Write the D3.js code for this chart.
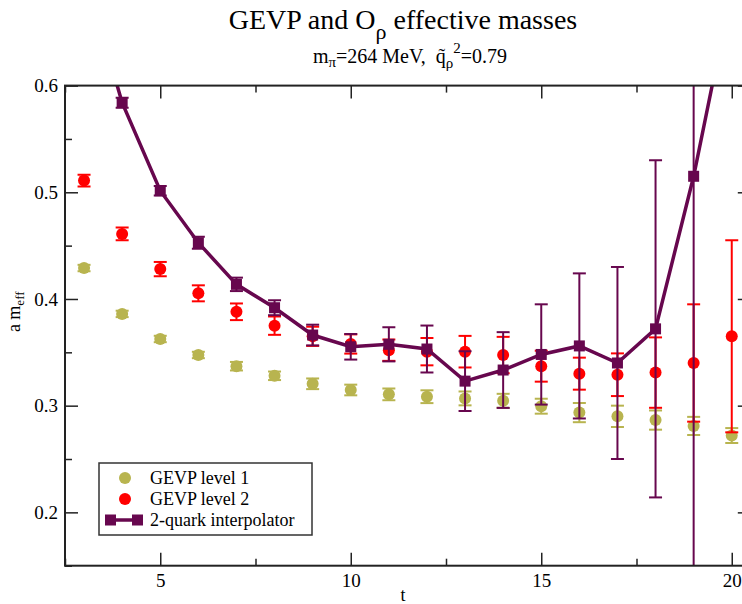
<!DOCTYPE html>
<html>
<head>
<meta charset="utf-8">
<script src="https://cdn.jsdelivr.net/npm/d3@7"></script>
<style>
	body { margin: 0; background: #fff; }
	svg text { font-family: "Liberation Serif", "DejaVu Serif", "Noto Serif", serif !important; fill: #000; }
</style>
</head>
<body>
<script>
// effective masses, one entry per timeslice
let tVals = [3, 4, 5, 6, 7, 8, 9, 10, 11, 12, 13, 14, 15, 16, 17, 18, 19, 20];

let level1 = [0.429, 0.386, 0.3625, 0.3475, 0.337, 0.328, 0.3205, 0.3147, 0.3106, 0.3084, 0.3068, 0.3046, 0.2995, 0.2935, 0.290, 0.2865, 0.281, 0.272];
let level1Err = [0.003, 0.003, 0.003, 0.003, 0.004, 0.004, 0.005, 0.005, 0.0055, 0.006, 0.0065, 0.0065, 0.007, 0.009, 0.01, 0.009, 0.0085, 0.007];

let level2 = [0.511, 0.461, 0.428, 0.4053, 0.388, 0.375, 0.365, 0.3578, 0.352, 0.3506, 0.3506, 0.3475, 0.337, 0.330, 0.329, 0.331, 0.340, 0.365];
let level2Err = [0.0055, 0.006, 0.0067, 0.0075, 0.0078, 0.0086, 0.009, 0.009, 0.01, 0.0128, 0.0148, 0.017, 0.0145, 0.015, 0.02, 0.033, 0.055, 0.09];

let quark = [0.707, 0.584, 0.5015, 0.4527, 0.4137, 0.3918, 0.3662, 0.3552, 0.3575, 0.3531, 0.323, 0.3334, 0.348, 0.356, 0.340, 0.372, 0.515, 0.69];
let quarkErr = [0.005, 0.0047, 0.0044, 0.0056, 0.0063, 0.007, 0.0097, 0.012, 0.016, 0.022, 0.028, 0.0355, 0.047, 0.068, 0.09, 0.158, 0.5, 0.05];

let xMajor = [5, 10, 15, 20];
let xMinor = [2.5, 7.5, 12.5, 17.5];
let yMajor = [0.2, 0.3, 0.4, 0.5, 0.6];
let yMinor = [0.15, 0.25, 0.35, 0.45, 0.55];

let legendLabels = ["GEVP level 1", "GEVP level 2", "2-quark interpolator"];

let colL1 = "#b8b44f";
let colL2 = "#ff0000";
let colQ = "#67074e";

let margin = {top: 85.6, right: -8.8, bottom: 38.3, left: 65};
let width = 742 - margin.left - margin.right;
let height = 604 - margin.top - margin.bottom;

let xScale = d3.scaleLinear().domain([2.5, 20.5]).range([0, width]);
let yScale = d3.scaleLinear().domain([0.15, 0.6]).range([height, 0]);

let svg = d3.select("body").append("svg")
	.attr("width", 742)
	.attr("height", 604);

let chart = svg.append("g")
	.attr("transform", "translate(" + margin.left + "," + margin.top + ")");

chart.append("clipPath").attr("id", "plotclip")
	.append("rect").attr("width", width).attr("height", height);

// title and subtitle
let title = svg.append("text")
	.attr("x", 403).attr("y", 29)
	.attr("text-anchor", "middle").style("font-size", "28px");
title.append("tspan").text("GEVP and O");
title.append("tspan").attr("dy", 10).style("font-size", "22px").text("ρ");
title.append("tspan").attr("dy", -10).text(" effective masses");

let sub = svg.append("text")
	.attr("x", 410).attr("y", 63)
	.attr("text-anchor", "middle").style("font-size", "20px");
sub.append("tspan").text("m");
sub.append("tspan").attr("dy", 4).style("font-size", "15px").text("π");
sub.append("tspan").attr("dy", -4).text("=264 MeV,\u00a0 q\u0303");
sub.append("tspan").attr("dy", 5).style("font-size", "15px").text("ρ");
sub.append("tspan").attr("dy", -15).style("font-size", "15px").text("2");
sub.append("tspan").attr("dy", 10).text("=0.79");

// data layer, clipped to the frame
let plot = chart.append("g").attr("clip-path", "url(#plotclip)");

function drawErrors(vals, errs, color, capW) {
	let g = plot.append("g").attr("stroke", color).attr("stroke-width", 2);
	tVals.forEach(function(t, i) {
		let x = xScale(t);
		let y0 = yScale(vals[i] - errs[i]);
		let y1 = yScale(vals[i] + errs[i]);
		g.append("line").attr("x1", x).attr("x2", x).attr("y1", y0).attr("y2", y1);
		g.append("line").attr("x1", x - capW / 2).attr("x2", x + capW / 2).attr("y1", y0).attr("y2", y0);
		g.append("line").attr("x1", x - capW / 2).attr("x2", x + capW / 2).attr("y1", y1).attr("y2", y1);
	});
}

// GEVP level 1
drawErrors(level1, level1Err, colL1, 13);
plot.selectAll(".l1dots")
		.data(tVals)
	.enter().append("circle")
		.attr("r", 6)
		.attr("fill", colL1)
		.attr("cx", function(d) { return xScale(d); })
		.attr("cy", function(d, i) { return yScale(level1[i]); });

// GEVP level 2
drawErrors(level2, level2Err, colL2, 13);
plot.selectAll(".l2dots")
		.data(tVals)
	.enter().append("circle")
		.attr("r", 6)
		.attr("fill", colL2)
		.attr("cx", function(d) { return xScale(d); })
		.attr("cy", function(d, i) { return yScale(level2[i]); });

// 2-quark interpolator
drawErrors(quark, quarkErr, colQ, 13);
let qLine = d3.line()
	.x(function(d) { return xScale(d); })
	.y(function(d, i) { return yScale(quark[i]); });
plot.append("path")
	.datum(tVals)
	.attr("fill", "none")
	.attr("stroke", colQ)
	.attr("stroke-width", 3.5)
	.attr("d", qLine);
plot.selectAll(".qsq")
		.data(tVals)
	.enter().append("rect")
		.attr("width", 11).attr("height", 11)
		.attr("fill", colQ)
		.attr("x", function(d) { return xScale(d) - 5.5; })
		.attr("y", function(d, i) { return yScale(quark[i]) - 5.5; });

// axes: ticks point inward on all four sides
let axB = d3.axisBottom(xScale).tickValues(xMajor).tickSize(-13).tickPadding(8).tickFormat(d3.format("d"));
let axBm = d3.axisBottom(xScale).tickValues(xMinor).tickSize(-7).tickFormat("");
let axT = d3.axisTop(xScale).tickValues(xMajor).tickSize(-13).tickFormat("");
let axTm = d3.axisTop(xScale).tickValues(xMinor).tickSize(-7).tickFormat("");
let axL = d3.axisLeft(yScale).tickValues(yMajor).tickSize(-13).tickPadding(7).tickFormat(d3.format(".1f"));
let axLm = d3.axisLeft(yScale).tickValues(yMinor).tickSize(-7).tickFormat("");
let axR = d3.axisRight(yScale).tickValues(yMajor).tickSize(-13).tickFormat("");
let axRm = d3.axisRight(yScale).tickValues(yMinor).tickSize(-7).tickFormat("");

[[axB, "0," + height], [axBm, "0," + height], [axT, "0,0"], [axTm, "0,0"],
 [axL, "0,0"], [axLm, "0,0"], [axR, width + ",0"], [axRm, width + ",0"]].forEach(function(a) {
	let g = chart.append("g")
		.attr("transform", "translate(" + a[1] + ")")
		.call(a[0]);
	g.attr("font-family", null);
	g.select(".domain").remove();
	g.selectAll("line").attr("stroke", "#222").attr("stroke-width", 1.5);
	g.selectAll("text").style("font-size", "19px").attr("fill", "#000");
});

chart.append("rect")
	.attr("width", width).attr("height", height)
	.attr("fill", "none").attr("stroke", "#222").attr("stroke-width", 2);

// axis labels
chart.append("text")
	.attr("x", xScale(11.37)).attr("y", height + 35)
	.attr("text-anchor", "middle").style("font-size", "18px")
	.text("t");

let ylab = chart.append("text")
	.attr("transform", "translate(" + (-45) + "," + (yScale(0.388)) + ") rotate(-90)")
	.attr("text-anchor", "middle").style("font-size", "18px");
ylab.append("tspan").text("a m");
ylab.append("tspan").attr("dy", 4).style("font-size", "13px").text("eff");

// legend
let legend = svg.append("g").attr("transform", "translate(99,463)");
legend.append("rect")
	.attr("width", 213).attr("height", 72)
	.attr("fill", "#fff").attr("stroke", "#333").attr("stroke-width", 1.5);
let rows = legend.selectAll(".row")
		.data(legendLabels)
	.enter().append("g")
		.attr("transform", function(d, i) { return "translate(0," + (15 + i * 21) + ")"; });
rows.append("text")
	.attr("x", 51).attr("y", 6)
	.style("font-size", "18px")
	.text(function(d) { return d; });
rows.filter(function(d, i) { return i < 2; }).append("circle")
	.attr("cx", 26).attr("r", 6)
	.attr("fill", function(d, i) { return i == 0 ? colL1 : colL2; });
let qRow = rows.filter(function(d, i) { return i == 2; });
qRow.append("line").attr("x1", 11).attr("x2", 39)
	.attr("stroke", colQ).attr("stroke-width", 3.5);
qRow.append("rect").attr("x", 6).attr("y", -5.5).attr("width", 11).attr("height", 11).attr("fill", colQ);
qRow.append("rect").attr("x", 33).attr("y", -5.5).attr("width", 11).attr("height", 11).attr("fill", colQ);
</script>
</body>
</html>
